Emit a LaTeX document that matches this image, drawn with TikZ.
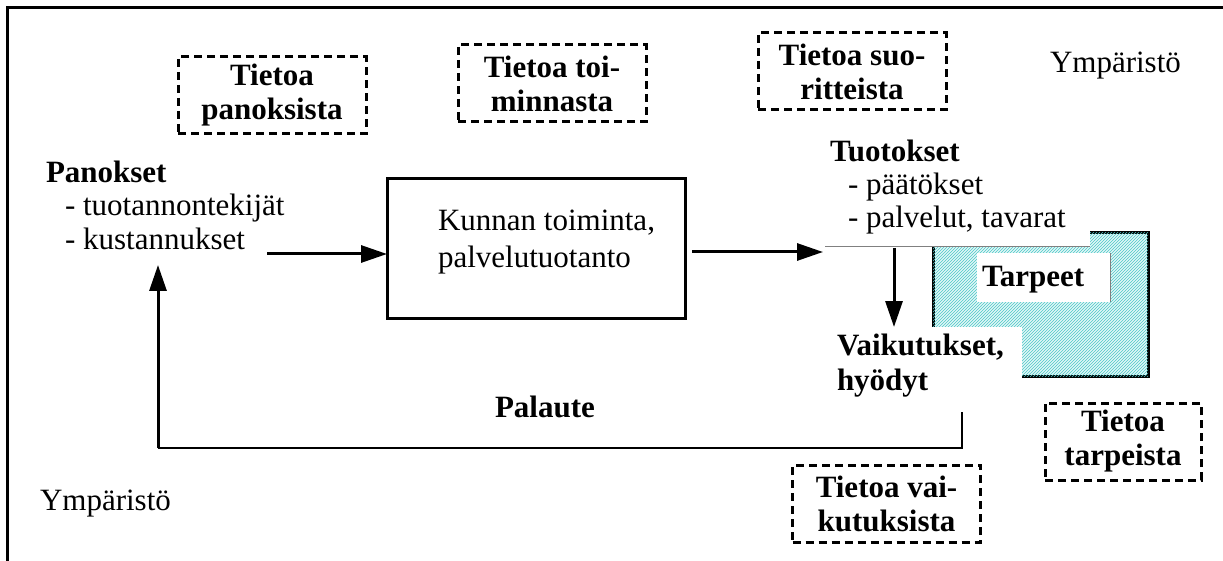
\documentclass[tikz,border=0pt]{standalone}
\usepackage{fontspec}
\setmainfont{Liberation Serif}
\usetikzlibrary{arrows.meta,patterns}
\definecolor{hatchbg}{HTML}{E2F8F8}
\definecolor{hatchfg}{HTML}{4CC6C6}
\begin{document}
\begin{tikzpicture}[x=1pt,y=-1pt,
  every node/.style={font=\fontsize{31}{34}\selectfont, inner sep=0pt, outer sep=0pt},
  lbl/.style={anchor=base west},
  blbl/.style={anchor=base west, font=\fontsize{31}{34}\selectfont\bfseries},
  infobox/.style={draw, line width=3pt, dash pattern=on 8pt off 5pt, align=center,
    font=\fontsize{31}{34}\selectfont\bfseries, minimum height=77pt, minimum width=188pt},
  whitebox/.style={fill=white, draw=none},
  flow/.style={line width=3pt, -{Triangle[length=26pt,width=17pt]}},
  thinline/.style={line width=1.5pt},
]
\useasboundingbox (0,0) rectangle (1223,561);
% outer frame
\draw[line width=3pt] (7,561) -- (7,8) -- (1223,8);

% info boxes
\node[infobox] (ipan) at (272,95.5) {Tietoa\\panoksista};
\node[infobox] (itoi) at (552,83.5) {Tietoa toi-\\minnasta};
\node[infobox] (isuo) at (852,71.5) {Tietoa suo-\\ritteista};
\node[infobox] (ivai) at (886.5,503.5) {Tietoa vai-\\kutuksista};
\node[infobox, minimum width=156pt] (itar) at (1123,441.5) {Tietoa\\tarpeista};

% environment labels
\node[lbl] (ymp1) at (1050,73) {Ympäristö};
\node[lbl] (ymp2) at (40,510) {Ympäristö};

% inputs
\node[blbl] (pan) at (46,183) {Panokset};
\node[lbl] (pan1) at (65,216) {- tuotannontekijät};
\node[lbl] (pan2) at (65,250) {- kustannukset};

% main box
\node[draw, line width=3pt, minimum width=298pt, minimum height=139pt] (main) at (536,248.5) {};
\node[lbl] (maintxt1) at (438,231) {Kunnan toiminta,};
\node[lbl] (maintxt2) at (438,268) {palvelutuotanto};

% needs box (hatched)
\draw[line width=3pt, fill=hatchbg] (933,233) rectangle (1148,376);
\fill[pattern=north east lines, pattern color=hatchfg] (933,233) rectangle (1148,376);
\node[whitebox, minimum width=268pt, minimum height=107pt] (tuotbg) at (956,193.5) {};
\draw[gray, line width=1pt] (825,247) -- (1090,247);
\node[whitebox, minimum width=192pt, minimum height=73pt] (vaibg) at (926,363.5) {};
\node[whitebox, minimum width=133pt, minimum height=49pt] (tarbg) at (1043.5,277.5) {};
\draw[gray, line width=1pt] (tarbg.north east) -- (tarbg.south east);
\node[blbl] (tar) at (982,287) {Tarpeet};

% outputs
\node[blbl] (tuo) at (830,162) {Tuotokset};
\node[lbl] (tuo1) at (848,195) {- päätökset};
\node[lbl] (tuo2) at (848,228) {- palvelut, tavarat};

% effects
\node[blbl] (vai) at (837,355) {Vaikutukset,};
\node[blbl] (vai2) at (837,390) {hyödyt};

% feedback label
\node[blbl] (pal) at (495,417) {Palaute};

% connectors
\coordinate (a1s) at (267,254);
\draw[flow] (a1s) -- (main.west |- a1s);
\coordinate (a2s) at (692,252);
\coordinate (a2e) at (823,252);
\draw[flow] (a2s) -- (a2e);
\coordinate (a3s) at (894,248);
\draw[flow] (a3s) -- (894,327);
\coordinate (fbs) at (962,412);
\coordinate (fbr) at (962,448);
\coordinate (fbl) at (158,448);
\coordinate (fbt) at (158,265);
\draw[thinline] (fbs) -- (fbr) -- (fbl);
\draw[flow] (fbl) -- (fbt);
\end{tikzpicture}
\end{document}
